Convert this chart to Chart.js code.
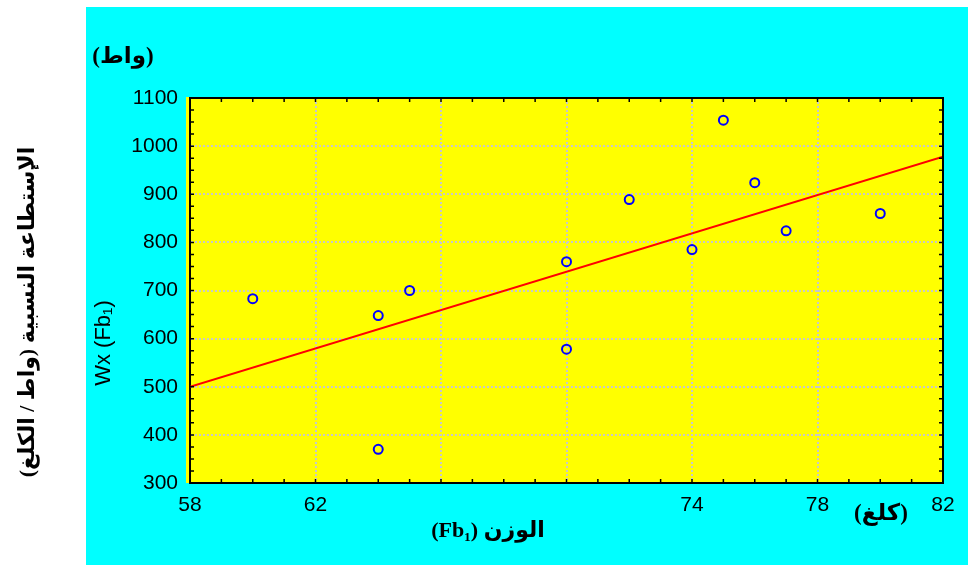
<!DOCTYPE html>
<html>
<head>
<meta charset="utf-8">
<script src="https://cdn.jsdelivr.net/npm/chart.js@4.4.0/dist/chart.umd.min.js"></script>
<style>
  html, body { margin: 0; padding: 0; background: #fff; }
</style>
</head>
<body>
<canvas id="chart" width="968" height="565"></canvas>
<script>
// weight (kg) and relative power (W/kg)
const weights = [60, 64, 64, 65, 70, 70, 72, 74, 75, 76, 77, 80];
const powers = [683, 648, 370, 700, 760, 578, 889, 785, 1054, 924, 824, 860];

// end points of the fitted line
const fitX = [58, 82];
const fitY = [500, 978];

// labelled ticks
const xLabels = [58, 62, 74, 78, 82];
const yLabels = [300, 400, 500, 600, 700, 800, 900, 1000, 1100];

const arabicFont = "'Liberation Serif', 'DejaVu Sans', serif";

// cyan panel, yellow plot, inner tick marks and all the titles
const decor = {
  id: "decor",
  beforeDraw(chart) {
    const { ctx, chartArea: a } = chart;
    ctx.save();
    ctx.fillStyle = "#ffffff";
    ctx.fillRect(0, 0, chart.width, chart.height);
    ctx.fillStyle = "#00ffff";
    ctx.fillRect(86, 7, chart.width - 86, chart.height - 7);
    ctx.fillStyle = "#ffff00";
    ctx.fillRect(a.left - 4, a.top - 1, a.right - a.left + 5, a.bottom - a.top + 1);
    ctx.restore();
  },
  afterDraw(chart) {
    const { ctx, chartArea: a, scales } = chart;
    ctx.save();

    // top and right frame
    ctx.strokeStyle = "#000";
    ctx.lineWidth = 2;
    ctx.beginPath();
    ctx.moveTo(a.left, a.top);
    ctx.lineTo(a.right, a.top);
    ctx.lineTo(a.right, a.bottom);
    ctx.stroke();

    // tick marks pointing into the plot on all four sides
    ctx.lineWidth = 1.5;
    ctx.beginPath();
    scales.x.ticks.forEach((t) => {
      const px = scales.x.getPixelForValue(t.value);
      ctx.moveTo(px, a.bottom);
      ctx.lineTo(px, a.bottom - 4);
      ctx.moveTo(px, a.top);
      ctx.lineTo(px, a.top + 4);
    });
    scales.y.ticks.forEach((t) => {
      const py = scales.y.getPixelForValue(t.value);
      ctx.moveTo(a.left, py);
      ctx.lineTo(a.left + 4, py);
      ctx.moveTo(a.right, py);
      ctx.lineTo(a.right - 4, py);
    });
    ctx.stroke();

    ctx.fillStyle = "#000";
    ctx.textAlign = "center";
    ctx.textBaseline = "middle";

    // units
    ctx.direction = "rtl";
    ctx.font = "bold 23px " + arabicFont;
    ctx.fillText("(واط)", 123, 57);
    ctx.fillText("(كلغ)", 881, 514);

    // x title
    ctx.font = "bold 22px " + arabicFont;
    ctx.fillText("الوزن (Fb₁)", 488, 531);

    // big arabic y title, outside the panel
    ctx.save();
    ctx.translate(28, 312);
    ctx.rotate(-Math.PI / 2);
    ctx.font = "bold 22px " + arabicFont;
    ctx.fillText("الإستطاعة النسبية (واط / الكلغ)", 0, 0);
    ctx.restore();

    // y title
    ctx.direction = "ltr";
    ctx.save();
    ctx.translate(104, 343);
    ctx.rotate(-Math.PI / 2);
    ctx.font = "22px 'Liberation Sans', Arial, sans-serif";
    ctx.fillText("Wx (Fb₁)", 0, 0);
    ctx.restore();

    ctx.restore();
  },
};

new Chart(document.getElementById("chart"), {
  type: "scatter",
  data: {
    datasets: [
      {
        label: "Wx",
        data: weights.map((w, i) => ({ x: w, y: powers[i] })),
        showLine: false,
        pointStyle: "circle",
        pointRadius: 4.5,
        pointBorderWidth: 2,
        pointBackgroundColor: "rgba(0,0,0,0)",
        pointBorderColor: "#0000ff",
      },
      {
        label: "fit",
        data: fitX.map((x, i) => ({ x: x, y: fitY[i] })),
        showLine: true,
        borderColor: "#ff0000",
        borderWidth: 2,
        pointRadius: 0,
      },
    ],
  },
  options: {
    responsive: false,
    animation: false,
    layout: { padding: { left: 100, right: 25, top: 98, bottom: 0 } },
    plugins: {
      legend: { display: false },
      tooltip: { enabled: false },
    },
    scales: {
      x: {
        type: "linear",
        min: 58,
        max: 82,
        afterFit: (scale) => { scale.height = 82; },
        border: { color: "#000", width: 2, dash: [2, 2] },
        grid: {
          drawTicks: false,
          lineWidth: 2,
          color: (ctx) => ((ctx.tick && (ctx.tick.value - 58) % 4 === 0) ? "#c8c8c8" : "rgba(0,0,0,0)"),
        },
        ticks: {
          stepSize: 1,
          autoSkip: false,
          maxRotation: 0,
          padding: 10,
          color: "#000",
          font: { family: "'Liberation Sans', Arial, sans-serif", size: 21 },
          callback: (value) => (xLabels.includes(value) ? String(value) : ""),
        },
      },
      y: {
        min: 300,
        max: 1100,
        afterFit: (scale) => { scale.width = 90; },
        border: { color: "#000", width: 2, dash: [2, 2] },
        grid: {
          drawTicks: false,
          lineWidth: 2,
          color: (ctx) => ((ctx.tick && ctx.tick.value % 100 === 0) ? "#c8c8c8" : "rgba(0,0,0,0)"),
        },
        ticks: {
          stepSize: 25,
          autoSkip: false,
          padding: 12,
          color: "#000",
          font: { family: "'Liberation Sans', Arial, sans-serif", size: 21 },
          callback: (value) => (yLabels.includes(value) ? String(value) : ""),
        },
      },
    },
  },
  plugins: [decor],
});
</script>
</body>
</html>
